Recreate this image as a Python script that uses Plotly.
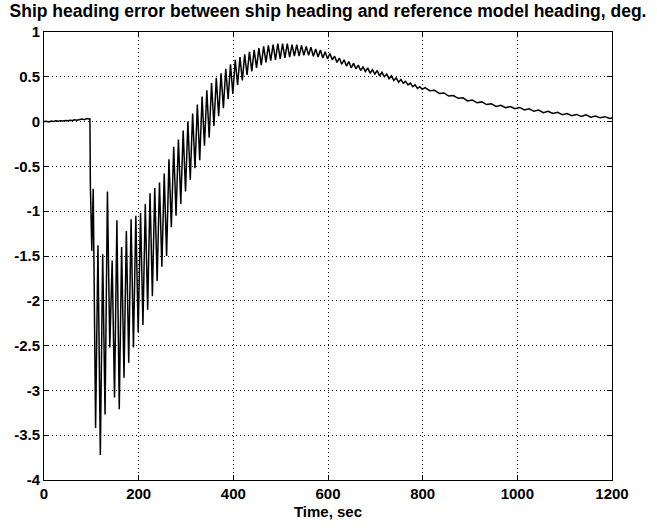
import plotly.graph_objects as go

# ---------------- data ----------------
title_text = "Ship heading error between ship heading and reference model heading, deg."
x_label = "Time, sec"
x_ticks = [0, 200, 400, 600, 800, 1000, 1200]
y_ticks = [1, 0.5, 0, -0.5, -1, -1.5, -2, -2.5, -3, -3.5, -4]
y_tick_text = ["1", "0.5", "0", "-0.5", "-1", "-1.5", "-2", "-2.5", "-3", "-3.5", "-4"]

# quiet part before the manoeuvre
quiet_t = [0, 5, 10, 15, 20, 25, 30, 35, 40, 45, 50, 55, 60, 65, 70, 75, 80, 85, 90, 95, 97]
quiet_v = [0.0, 0.004, -0.003, 0.006, 0.002, 0.008, 0.005, 0.01, 0.006, 0.012, 0.009,
           0.015, 0.012, 0.02, 0.016, 0.025, 0.03, 0.022, 0.035, 0.028, 0.03]

# oscillating part: local maxima
peak_t = [98, 104, 114, 124, 134, 144, 154, 164, 174, 184, 194, 204,
          214, 224, 234, 244, 254, 264, 274, 284, 294, 304, 314, 324, 334, 344,
          354, 364, 374, 384, 394, 404, 414, 424, 434, 444, 454, 464, 474, 484,
          494, 504, 514, 524, 534, 544, 554, 564, 574, 584, 594, 604, 614, 624,
          634, 644, 654, 664, 674, 684, 694, 704, 714, 724, 734, 744, 754, 764,
          774, 784, 794]
peak_v = [-0.72, -0.75, -1.38, -1.48, -0.78, -1.55, -1.10, -1.40, -1.22, -1.09, -1.05, -1.02,
          -0.92, -0.80, -0.74, -0.68, -0.58, -0.42, -0.28, -0.20, -0.10, 0.0, 0.09, 0.19, 0.28, 0.35,
          0.43, 0.49, 0.54, 0.59, 0.64, 0.69, 0.72, 0.75, 0.78, 0.80, 0.82, 0.84, 0.85, 0.86,
          0.87, 0.87, 0.87, 0.86, 0.86, 0.85, 0.84, 0.83, 0.81, 0.80, 0.78, 0.76, 0.73, 0.71,
          0.69, 0.67, 0.65, 0.63, 0.61, 0.60, 0.58, 0.57, 0.55, 0.53, 0.51, 0.49, 0.47, 0.45,
          0.43, 0.41, 0.39]

# oscillating part: local minima
trough_t = [101, 109, 119, 129, 139, 149, 159, 169, 179, 189, 199, 209,
            219, 229, 239, 249, 259, 269, 279, 289, 299, 309, 319, 329, 339, 349,
            359, 369, 379, 389, 399, 409, 419, 429, 439, 449, 459, 469, 479, 489,
            499, 509, 519, 529, 539, 549, 559, 569, 579, 589, 599, 609, 619, 629,
            639, 649, 659, 669, 679, 689, 699, 709, 719, 729, 739, 749, 759, 769,
            779, 789, 799]
trough_v = [-1.44, -3.42, -3.72, -3.27, -2.52, -3.08, -3.21, -2.86, -2.69, -2.52, -2.35, -2.27,
            -2.10, -1.95, -1.78, -1.62, -1.50, -1.18, -1.05, -0.92, -0.78, -0.65, -0.52, -0.43, -0.27, -0.18,
            -0.05, 0.06, 0.15, 0.25, 0.31, 0.41, 0.46, 0.52, 0.56, 0.60, 0.63, 0.66, 0.68, 0.69,
            0.70, 0.71, 0.72, 0.73, 0.73, 0.74, 0.74, 0.73, 0.72, 0.71, 0.70, 0.69, 0.66, 0.64,
            0.62, 0.60, 0.59, 0.57, 0.56, 0.54, 0.53, 0.51, 0.50, 0.48, 0.46, 0.44, 0.43, 0.41,
            0.39, 0.37, 0.36]

# slowly decaying, slightly jagged tail
tail_t = [805, 815, 825, 835, 845, 855, 865, 875, 885, 895, 905, 915, 925, 935, 945, 955,
          965, 975, 985, 995, 1005, 1015, 1025, 1035, 1045, 1055, 1065, 1075, 1085, 1095,
          1105, 1115, 1125, 1135, 1145, 1155, 1165, 1175, 1185, 1195, 1200]
tail_v = [0.38, 0.345, 0.35, 0.315, 0.32, 0.285, 0.29, 0.26, 0.265, 0.23, 0.24, 0.21,
          0.22, 0.19, 0.2, 0.17, 0.182, 0.155, 0.168, 0.145, 0.158, 0.13, 0.143, 0.115,
          0.128, 0.1, 0.115, 0.09, 0.103, 0.078, 0.09, 0.066, 0.08, 0.058, 0.075, 0.05,
          0.062, 0.042, 0.055, 0.035, 0.04]

# ---------------- assemble series ----------------
pts = list(zip(quiet_t, quiet_v)) + list(zip(peak_t, peak_v)) + \
      list(zip(trough_t, trough_v)) + list(zip(tail_t, tail_v))
pts.sort(key=lambda p: p[0])
t = [p[0] for p in pts]
v = [p[1] for p in pts]

FONT = "Liberation Sans, Arial, sans-serif"

fig = go.Figure()
fig.add_trace(go.Scatter(x=t, y=v, mode="lines",
                         line=dict(color="black", width=1.5), showlegend=False,
                         hoverinfo="skip"))

axis_common = dict(
    showline=True, linecolor="black", linewidth=1, mirror="allticks",
    ticks="inside", ticklen=5, tickcolor="black", tickwidth=1,
    showgrid=True, gridcolor="black", gridwidth=1, griddash="1px,3px",
    zeroline=False, automargin=False,
    tickfont=dict(family=FONT, size=15, color="black", weight="bold"),
)

fig.update_layout(
    width=657, height=529,
    margin=dict(l=44, r=45, t=32, b=49),
    paper_bgcolor="white", plot_bgcolor="white",
    title=dict(text=title_text, x=0.5, xanchor="center", xref="paper",
               y=1 - 11 / 529, yref="container", yanchor="middle",
               font=dict(family=FONT, size=17.5, color="black", weight="bold")),
    xaxis=dict(range=[0, 1200], tickvals=x_ticks, ticktext=[str(x) for x in x_ticks],
               title=dict(text=x_label, standoff=5,
                          font=dict(family=FONT, size=15, color="black", weight="bold")),
               **axis_common),
    yaxis=dict(range=[-4, 1], tickvals=y_ticks, ticktext=y_tick_text, **axis_common),
)

fig.write_html(
    "out.html",
    config={"displayModeBar": False, "staticPlot": True},
    post_script="document.body.style.margin='0';document.body.style.overflow='hidden';",
)
